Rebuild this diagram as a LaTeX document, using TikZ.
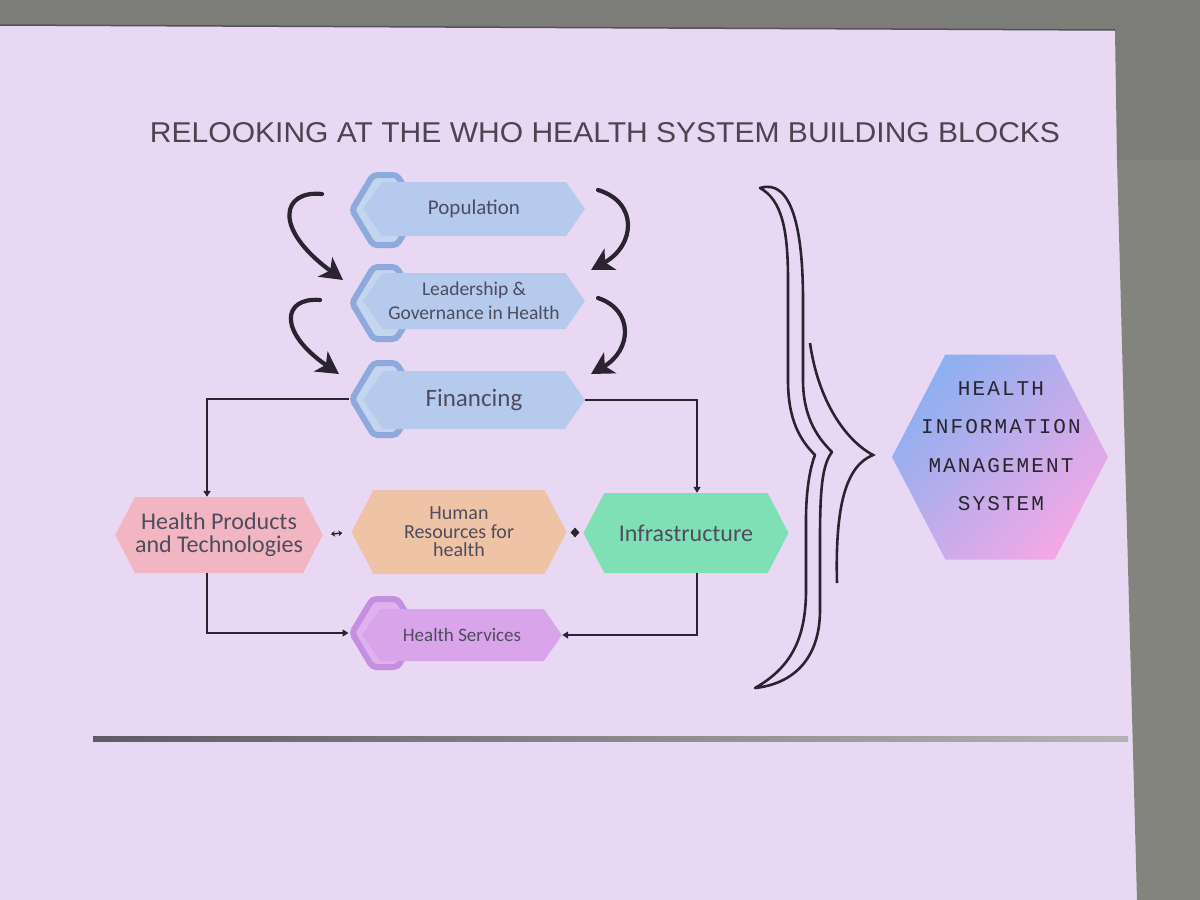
\documentclass[tikz,border=0pt]{standalone}
\usepackage{fontspec}
\usetikzlibrary{shapes.symbols,shapes.geometric,arrows.meta,calc}
\setmainfont{Carlito}
\newfontfamily\titlefont{Liberation Sans}
\newfontfamily\himsfont[LetterSpace=10]{Liberation Mono}
\definecolor{bg}{HTML}{E8D8F3}
\definecolor{scr}{HTML}{84847F}
\definecolor{scrb}{HTML}{7C7C78}
\definecolor{ink}{HTML}{2A2430}
\definecolor{txt}{HTML}{4E4C5E}
\definecolor{bluel}{HTML}{B5CAEC}
\definecolor{blued}{HTML}{8DAADC}
\definecolor{pinkb}{HTML}{F2B6C2}
\definecolor{peach}{HTML}{EFC4A6}
\definecolor{mint}{HTML}{7FE0B6}
\definecolor{violl}{HTML}{D9A4EA}
\definecolor{viold}{HTML}{C58FDF}
\definecolor{hblue}{HTML}{8CB0F0}
\definecolor{hmid}{HTML}{C8B8F2}
\definecolor{hpink}{HTML}{F2A8E6}
\tikzset{
  blk/.style={shape=signal, signal to=west and east, signal pointer angle=110,
    inner sep=0pt, align=center, text=txt, draw=none},
  ring/.style={shape=signal, signal to=west and east, signal pointer angle=118,
    inner sep=0pt, line width=6pt, minimum width=66pt, rounded corners=4pt},
  conn/.style={draw=ink, line width=1.6pt, -{Triangle[width=7pt,length=6pt]}},
  curv/.style={draw=ink, line width=4.2pt, line cap=round,
    -{Stealth[length=22pt,width=24pt,inset=6pt]}},
}
\begin{document}
\begin{tikzpicture}[x=1pt,y=-1pt]
\useasboundingbox (0,0) rectangle (1200,900);
% screen / slide
\fill[bg] (0,0) rectangle (1200,900);
\fill[scrb] (0,0) -- (1200,0) -- (1200,160) -- (1117,160) -- (1115,30) -- (0,25) -- cycle;
\fill[scr] (1117,160) -- (1200,160) -- (1200,900) -- (1137,900) -- cycle;
\draw[line width=1.5pt, ink!80] (0,25) -- (1115,30);

% title
\node[text=ink!85, inner sep=0pt] (title) at (605,133)
  {\resizebox{910pt}{20pt}{\titlefont RELOOKING AT THE WHO HEALTH SYSTEM BUILDING BLOCKS}};

% Population
\node[ring, draw=blued, fill=bluel!80!white, minimum height=70pt] (popring) at (385,210) {};
\node[blk, fill=bluel, minimum width=222pt, minimum height=54pt, font=\fontsize{21}{22}\selectfont] (pop) at (474,209) {Population};
% Leadership
\node[ring, draw=blued, fill=bluel!80!white, minimum height=72pt] (leadring) at (385,303) {};
\node[blk, fill=bluel, minimum width=222pt, minimum height=56pt, font=\fontsize{19.5}{24}\selectfont] (lead) at (474,301) {Leadership \&\\Governance in Health};
% Financing
\node[ring, draw=blued, fill=bluel!80!white, minimum height=72pt] (finring) at (385,399) {};
\node[blk, fill=bluel, minimum width=222pt, minimum height=58pt, font=\fontsize{25}{26}\selectfont] (fin) at (474,400) {Financing};

% bottom row
\node[blk, fill=pinkb, minimum width=204pt, minimum height=76pt, signal pointer angle=125, font=\fontsize{24}{23}\selectfont] (prod) at (219,535) {Health Products\\and Technologies};
\node[blk, fill=peach, minimum width=215pt, minimum height=84pt, signal pointer angle=125, font=\fontsize{20}{18.5}\selectfont] (hr) at (459,532) {Human\\Resources for\\health};
\node[blk, fill=mint, minimum width=205pt, minimum height=80pt, signal pointer angle=125, font=\fontsize{24}{22}\selectfont] (infra) at (686,533) {Infrastructure};

% Health Services
\node[ring, draw=viold, fill=violl!85!white, minimum height=68pt] (hsring) at (385,633) {};
\node[blk, fill=violl, minimum width=200pt, minimum height=52pt, font=\fontsize{19}{20}\selectfont] (hs) at (462,635) {Health Services};

% small markers between bottom blocks
\draw[ink, line width=1.6pt, {Stealth[length=4pt,width=6pt]}-{Stealth[length=4pt,width=6pt]}, shorten <=8pt, shorten >=9pt] (prod.east) -- (hr.west);
\node[fill=ink, diamond, inner sep=0pt, minimum width=9pt, minimum height=10pt] (dia) at ($(hr.east)!0.5!(infra.west)$) {};

% connectors
\draw[conn] (finring.west) -| ([xshift=-12pt]prod.north);
\draw[conn] (fin.east) -| ([xshift=11pt]infra.north);
\draw[conn] ([xshift=-12pt]prod.south) |- (hsring.west);
\draw[conn] ([xshift=11pt]infra.south) |- (hs.east);

% curved arrows
\coordinate (a1s) at (322,194); \coordinate (a1e) at (343,280);
\coordinate (a2s) at (320,300); \coordinate (a2e) at (339,374);
\coordinate (a3s) at (598,190); \coordinate (a3e) at (591,270);
\coordinate (a4s) at (598,298); \coordinate (a4e) at (591,374);
\draw[curv] (a1s) .. controls (282,190) and (272,228) .. (a1e);
\draw[curv] (a2s) .. controls (282,297) and (278,332) .. (a2e);
\draw[curv] (a3s) .. controls (638,202) and (636,245) .. (a3e);
\draw[curv] (a4s) .. controls (634,310) and (632,350) .. (a4e);

% brace
\draw[ink, line width=2.6pt, fill=bg, line join=round]
  (760,188) .. controls (792,178) and (803,230) .. (803,300) -- (803,380)
  .. controls (803,420) and (820,440) .. (832,452)
  .. controls (822,465) and (820,490) .. (820,540) -- (820,610)
  .. controls (820,660) and (792,684) .. (755,688)
  .. controls (790,668) and (806,640) .. (806,590) -- (806,520)
  .. controls (806,490) and (810,468) .. (815,455)
  .. controls (800,440) and (788,420) .. (788,380) -- (788,280)
  .. controls (788,230) and (782,200) .. (760,188) -- cycle;
\draw[ink, line width=2.6pt, line join=miter]
  (810,343) .. controls (818,400) and (845,440) .. (873,455)
  .. controls (846,466) and (835,505) .. (837,583);

% HIMS hexagon
\node[shape=signal, signal to=west and east, signal pointer angle=125,
  minimum width=216pt, minimum height=205pt, inner sep=0pt,
  top color=hblue, middle color=hmid, bottom color=hpink, shading angle=45] (hims) at (1000,457) {};
\node[text=ink, align=center, font=\himsfont\fontsize{21}{38.5}\selectfont] (himstxt) at (1001,446)
  {HEALTH\\INFORMATION\\MANAGEMENT\\SYSTEM};

% bottom rule
\shade[left color=ink!75, right color=ink!35] (93,736) rectangle (1128,741);
\end{tikzpicture}
\end{document}
